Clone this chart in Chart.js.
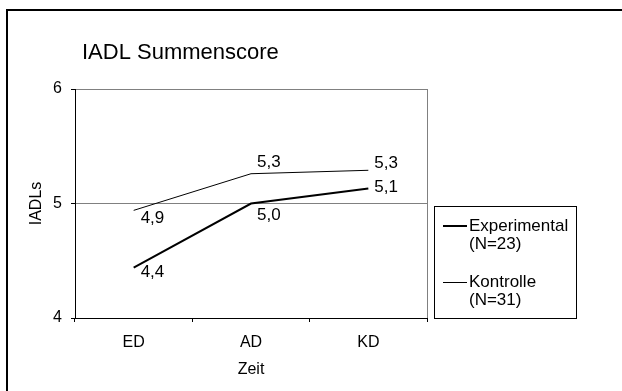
<!DOCTYPE html>
<html>
<head>
<meta charset="utf-8">
<script src="https://cdn.jsdelivr.net/npm/chart.js@4/dist/chart.umd.min.js"></script>
<style>
  html, body { margin: 0; padding: 0; background: #ffffff; }
  #wrap { position: relative; width: 622px; height: 391px; }
</style>
</head>
<body>
<div id="wrap"><canvas id="chart" width="622" height="391"></canvas></div>
<script>
// Measurement times
const categories = ['ED', 'AD', 'KD'];

// Mean IADL sum score per group
const experimentalValues = [4.44, 5.00, 5.13];
const kontrolleValues = [4.94, 5.26, 5.29];

// Group names and sizes
const groupNames = ['Experimental', 'Kontrolle'];
const groupSizes = [23, 31];

// Value-axis ticks
const yTicks = [4, 5, 6];

const chartTitle = 'IADL Summenscore';
const FONT = '"Liberation Sans", Arial, Helvetica, sans-serif';

// Where each value label sits relative to its point: [dx, dy]
const labelOffsets = [
  [[7, 5], [6, 12], [6, -1]],
  [[7, 8], [6, -11], [6, -7]]
];

// Frame, title, plot border, value labels and legend box
const decorations = {
  id: 'decorations',
  beforeDraw(chart) {
    const ctx = chart.ctx;
    ctx.save();
    ctx.fillStyle = '#000000';
    ctx.fillRect(6, 9, 2, chart.height);
    ctx.fillRect(6, 9, chart.width, 2);
    ctx.restore();
  },
  afterDatasetsDraw(chart) {
    const ctx = chart.ctx;
    const area = chart.chartArea;
    ctx.save();

    // right edge of the plot area
    ctx.strokeStyle = '#808080';
    ctx.lineWidth = 1;
    ctx.beginPath();
    const rx = Math.round(area.right) + 0.5;
    ctx.moveTo(rx, area.top);
    ctx.lineTo(rx, area.bottom);
    ctx.stroke();

    // title
    ctx.fillStyle = '#000000';
    ctx.font = '22px ' + FONT;
    ctx.textAlign = 'left';
    ctx.textBaseline = 'middle';
    ctx.fillText(chartTitle, 82, 53);

    // value labels
    ctx.font = '17px ' + FONT;
    chart.data.datasets.forEach((ds, di) => {
      const meta = chart.getDatasetMeta(di);
      meta.data.forEach((pt, i) => {
        const txt = ds.data[i].toFixed(1).replace('.', ',');
        const off = labelOffsets[di][i];
        ctx.fillText(txt, pt.x + off[0], pt.y + off[1]);
      });
    });

    // legend
    const box = { x: 434.5, y: 206.5, w: 142, h: 112 };
    ctx.strokeStyle = '#000000';
    ctx.lineWidth = 1;
    ctx.strokeRect(box.x, box.y, box.w, box.h);
    const rows = [226, 282];
    chart.data.datasets.forEach((ds, di) => {
      const y = rows[di];
      ctx.strokeStyle = ds.borderColor;
      ctx.lineWidth = ds.borderWidth;
      ctx.beginPath();
      const ly = ds.borderWidth % 2 ? y + 0.5 : y;
      ctx.moveTo(443, ly);
      ctx.lineTo(467, ly);
      ctx.stroke();
      ctx.fillStyle = '#000000';
      ctx.fillText(ds.label, 469, y + 0.5);
      ctx.fillText('(N=' + groupSizes[di] + ')', 469, y + 18.5);
    });
    ctx.restore();
  }
};

new Chart(document.getElementById('chart'), {
  type: 'line',
  data: {
    labels: categories,
    datasets: [
      {
        label: groupNames[0],
        data: experimentalValues,
        borderColor: '#000000',
        borderWidth: 2,
        pointRadius: 0,
        tension: 0,
        fill: false
      },
      {
        label: groupNames[1],
        data: kontrolleValues,
        borderColor: '#000000',
        borderWidth: 1,
        pointRadius: 0,
        tension: 0,
        fill: false
      }
    ]
  },
  options: {
    responsive: false,
    animation: false,
    events: [],
    layout: { padding: { left: 0, top: 89, right: 195, bottom: 0 } },
    plugins: {
      legend: { display: false },
      title: { display: false },
      tooltip: { enabled: false }
    },
    scales: {
      x: {
        type: 'category',
        offset: true,
        afterFit(scale) { scale.height = 73; },
        grid: {
          offset: true,
          drawOnChartArea: false,
          drawTicks: true,
          tickLength: 4,
          tickColor: '#000000',
          color: '#000000'
        },
        border: { display: true, color: '#000000', width: 1 },
        ticks: {
          color: '#000000',
          font: { family: FONT, size: 16 },
          padding: 11,
          maxRotation: 0
        },
        title: {
          display: true,
          text: 'Zeit',
          color: '#000000',
          font: { family: FONT, size: 16 },
          padding: { top: 0, bottom: 12 }
        }
      },
      y: {
        min: 4,
        max: 6,
        afterFit(scale) { scale.width = 75; },
        afterBuildTicks(scale) { scale.ticks = yTicks.map(v => ({ value: v })); },
        grid: {
          drawTicks: true,
          tickLength: 4,
          tickColor: '#000000',
          color: ctx => (ctx.tick && ctx.tick.value === yTicks[0]) ? 'rgba(0,0,0,0)' : '#808080'
        },
        border: { display: true, color: '#000000', width: 1 },
        ticks: {
          color: '#000000',
          font: { family: FONT, size: 16 },
          padding: 9
        },
        title: {
          display: true,
          text: 'IADLs',
          color: '#000000',
          font: { family: FONT, size: 16 },
          padding: { top: 27, bottom: 0 }
        }
      }
    }
  },
  plugins: [decorations]
});
</script>
</body>
</html>
